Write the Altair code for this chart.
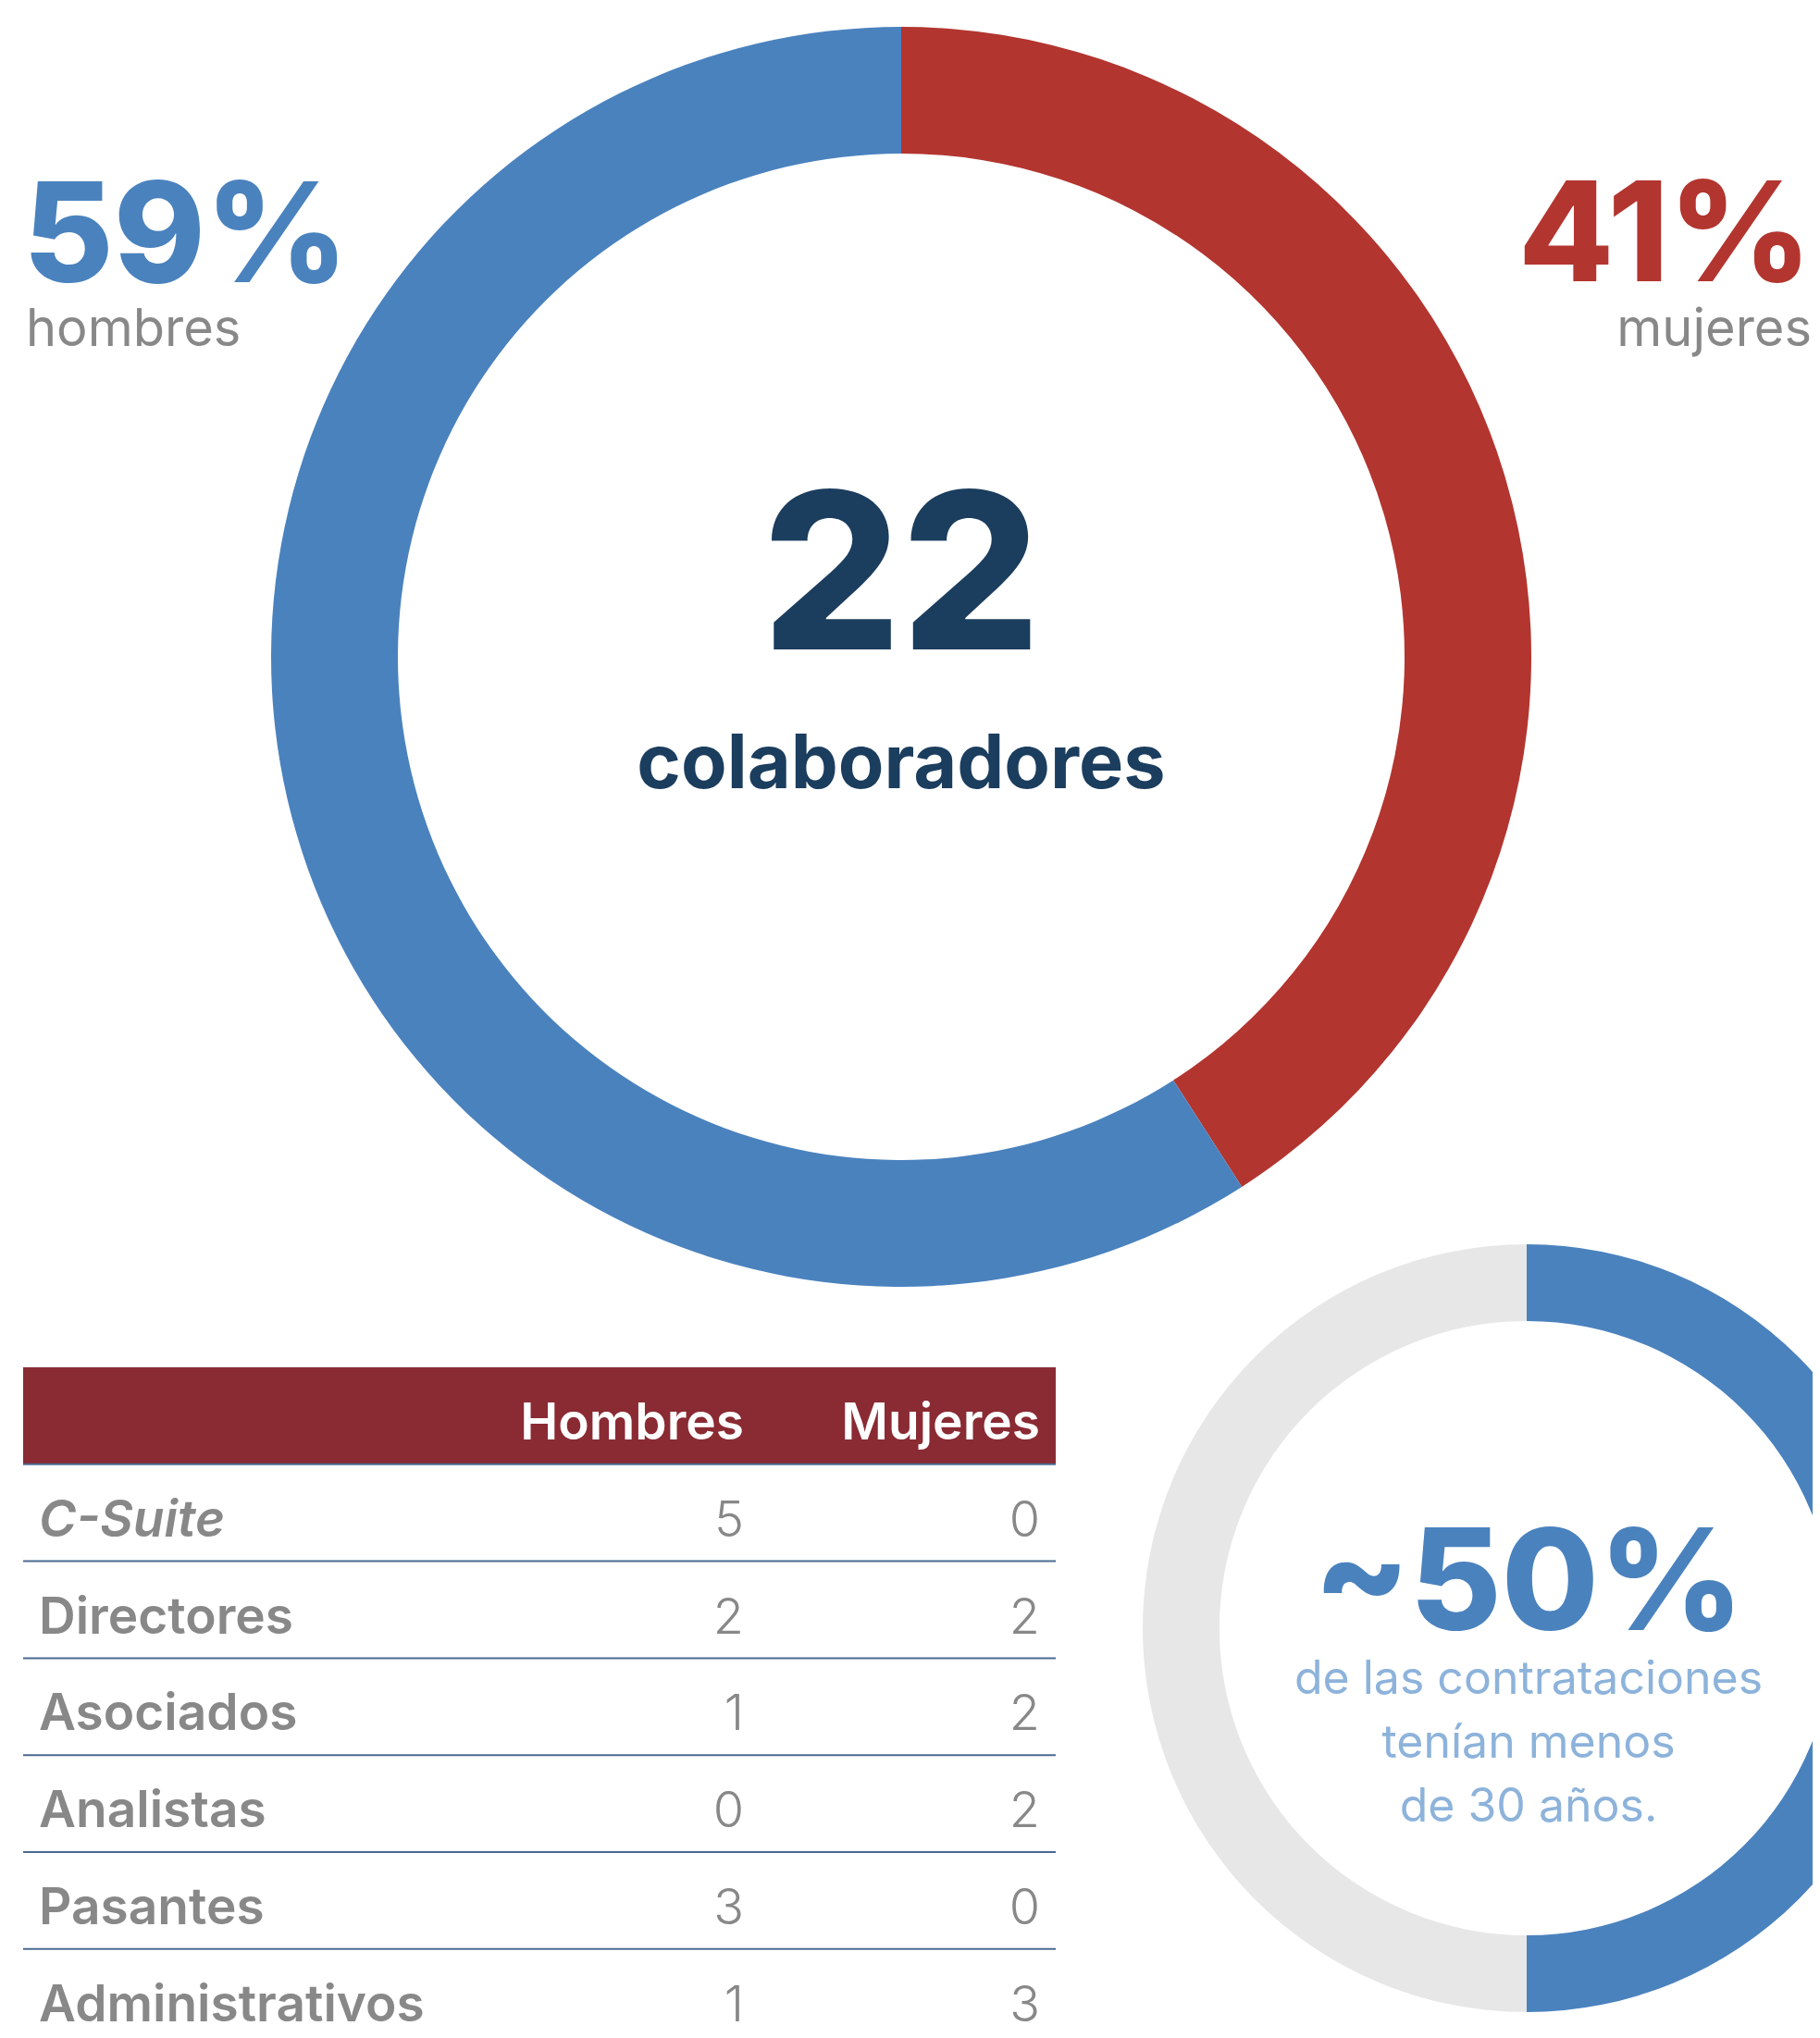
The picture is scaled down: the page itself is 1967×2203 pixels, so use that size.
import altair as alt
import pandas as pd

# ---------------- data ----------------
genders = ["Mujeres", "Hombres"]
gender_counts = [9, 13]
gender_words = ["mujeres", "hombres"]
total_word = "colaboradores"

age_groups = ["Menores de 30", "30 o más"]
age_shares = [50, 50]
age_headline = ["~50%"]
age_lines = ["de las contrataciones", "tenían menos", "de 30 años."]

roles = ["C-Suite", "Directores", "Asociados", "Analistas", "Pasantes", "Administrativos"]
hombres = [5, 2, 1, 0, 3, 1]
mujeres = [0, 2, 2, 2, 0, 3]
columns = ["Hombres", "Mujeres"]
italic_roles = ["C-Suite"]

# ---------------- styles ----------------
W, H = 1951, 2187
BLUE = "#4A82BE"
RED = "#B3352F"
NAVY = "#1B3D5E"
MAROON = "#8A2A33"
GREY = "#888888"
LIGHTGREY = "#E7E7E7"
LIGHTBLUE = "#8DB3DB"
LINE = "#4A6A91"
FONT = "Inter"

# ---------------- frames ----------------
total = sum(gender_counts)
g_df = pd.DataFrame({"gender": genders, "count": gender_counts,
                     "order": list(range(len(genders))), "word": gender_words})
g_df["pct"] = (g_df["count"] / total * 100).round().astype(int).astype(str) + "%"

a_df = pd.DataFrame({"group": age_groups, "share": age_shares,
                     "order": list(range(len(age_groups)))})
lines_df = pd.DataFrame({"line": age_lines, "i": list(range(len(age_lines)))})

HEADER = " "
row_domain = [HEADER] + roles
BAND = 104.8
TOP = 1470
yscale = alt.Scale(type="band", domain=row_domain,
                   range=[TOP, TOP + BAND * len(row_domain)],
                   paddingInner=0, paddingOuter=0)
xscale = alt.Scale(type="point", domain=columns, range=[796, 1116], padding=0)

role_df = pd.DataFrame({"role": roles, "italic": [r in italic_roles for r in roles]})
t_long = pd.DataFrame({"role": roles * 2,
                       "col": [columns[0]] * len(roles) + [columns[1]] * len(roles),
                       "value": hombres + mujeres})
head_df = pd.DataFrame({"role": [HEADER]})
head_cols = pd.DataFrame({"role": [HEADER] * len(columns), "col": columns})
rule_df = pd.DataFrame({"role": row_domain})

# ---------------- big donut ----------------
big_cx, big_cy = 966, 702
donut = alt.Chart(g_df).mark_arc(radius=681, radius2=544).encode(
    theta=alt.Theta("count:Q", stack=True),
    order=alt.Order("order:Q"),
    color=alt.Color("gender:N", scale=alt.Scale(domain=genders, range=[RED, BLUE]), legend=None),
    x=alt.value(big_cx), y=alt.value(big_cy),
)

pct_h = alt.Chart(g_df).transform_filter(alt.datum.gender == "Hombres").mark_text(
    align="left", baseline="alphabetic", font=FONT, fontSize=150, fontWeight=800, color=BLUE
).encode(text="pct:N", x=alt.value(17), y=alt.value(297))
word_h = alt.Chart(g_df).transform_filter(alt.datum.gender == "Hombres").mark_text(
    align="left", baseline="alphabetic", font=FONT, fontSize=56, fontWeight=400, color=GREY
).encode(text="word:N", x=alt.value(20), y=alt.value(366))

pct_m = alt.Chart(g_df).transform_filter(alt.datum.gender == "Mujeres").mark_text(
    align="right", baseline="alphabetic", font=FONT, fontSize=150, fontWeight=800, color=RED
).encode(text="pct:N", x=alt.value(1950), y=alt.value(296))
word_m = alt.Chart(g_df).transform_filter(alt.datum.gender == "Mujeres").mark_text(
    align="right", baseline="alphabetic", font=FONT, fontSize=56, fontWeight=400, color=GREY
).encode(text="word:N", x=alt.value(1950), y=alt.value(366))

total_txt = alt.Chart(g_df).transform_aggregate(total="sum(count)").mark_text(
    align="center", baseline="alphabetic", font=FONT, fontSize=236, fontWeight=800, color=NAVY
).encode(text="total:Q", x=alt.value(big_cx), y=alt.value(694))
total_word_txt = alt.Chart(pd.DataFrame({"w": [total_word]})).mark_text(
    align="center", baseline="alphabetic", font=FONT, fontSize=81, fontWeight=700, color=NAVY
).encode(text="w:N", x=alt.value(big_cx), y=alt.value(844))

# ---------------- small donut ----------------
sm_cx, sm_cy = 1642, 1752
donut2 = alt.Chart(a_df).mark_arc(radius=415, radius2=332, clip=True).encode(
    theta=alt.Theta("share:Q", stack=True),
    order=alt.Order("order:Q"),
    color=alt.Color("group:N", scale=alt.Scale(domain=age_groups, range=[BLUE, LIGHTGREY]), legend=None),
    x=alt.value(sm_cx), y=alt.value(sm_cy),
)
head50 = alt.Chart(pd.DataFrame({"h": age_headline})).mark_text(
    align="center", baseline="alphabetic", font=FONT, fontSize=152, fontWeight=800, color=BLUE
).encode(text="h:N", x=alt.value(1644), y=alt.value(1754))
line_layers = []
for i, yb in enumerate([1823, 1892, 1961]):
    line_layers.append(
        alt.Chart(lines_df).transform_filter(alt.datum.i == i).mark_text(
            align="center", baseline="alphabetic", font=FONT, fontSize=50, fontWeight=400, color=LIGHTBLUE
        ).encode(text="line:N", x=alt.value(1644), y=alt.value(yb))
    )

# ---------------- table ----------------
header_rect = alt.Chart(head_df).mark_rect(color=MAROON).encode(
    y=alt.Y("role:N", scale=yscale, axis=None), x=alt.value(17), x2=alt.value(1133)
)
header_txt = alt.Chart(head_cols).mark_text(
    align="right", baseline="alphabetic", font=FONT, fontSize=55, fontWeight=600, color="white"
).encode(
    y=alt.Y("role:N", scale=yscale, bandPosition=0.745, axis=None),
    x=alt.X("col:N", scale=xscale, axis=None),
    text="col:N",
)
rules = alt.Chart(rule_df).mark_rule(color=LINE, strokeWidth=2).encode(
    y=alt.Y("role:N", scale=yscale, bandPosition=1, axis=None), x=alt.value(17), x2=alt.value(1133)
)
labels = alt.Chart(role_df).transform_filter("!datum.italic").mark_text(
    align="left", baseline="alphabetic", font=FONT, fontSize=55, fontWeight=600, color=GREY
).encode(
    y=alt.Y("role:N", scale=yscale, bandPosition=0.745, axis=None), x=alt.value(34), text="role:N"
)
labels_it = alt.Chart(role_df).transform_filter("datum.italic").mark_text(
    align="left", baseline="alphabetic", font=FONT, fontSize=55, fontWeight=600,
    fontStyle="italic", color=GREY
).encode(
    y=alt.Y("role:N", scale=yscale, bandPosition=0.745, axis=None), x=alt.value(34), text="role:N"
)
nums = alt.Chart(t_long).mark_text(
    align="right", baseline="alphabetic", font=FONT, fontSize=54, fontWeight=300, color=GREY
).encode(
    y=alt.Y("role:N", scale=yscale, bandPosition=0.745, axis=None),
    x=alt.X("col:N", scale=xscale, axis=None),
    text="value:Q",
)

chart = alt.layer(
    donut, donut2,
    pct_h, word_h, pct_m, word_m, total_txt, total_word_txt,
    head50, *line_layers,
    header_rect, rules, header_txt, labels, labels_it, nums,
).resolve_scale(theta="independent", color="independent").properties(
    width=W, height=H, padding=0, background="white",
    autosize=alt.AutoSizeParams(type="none"),
).configure_view(stroke=None)

chart.save("out.html", embed_options={"renderer": "svg", "actions": False})
